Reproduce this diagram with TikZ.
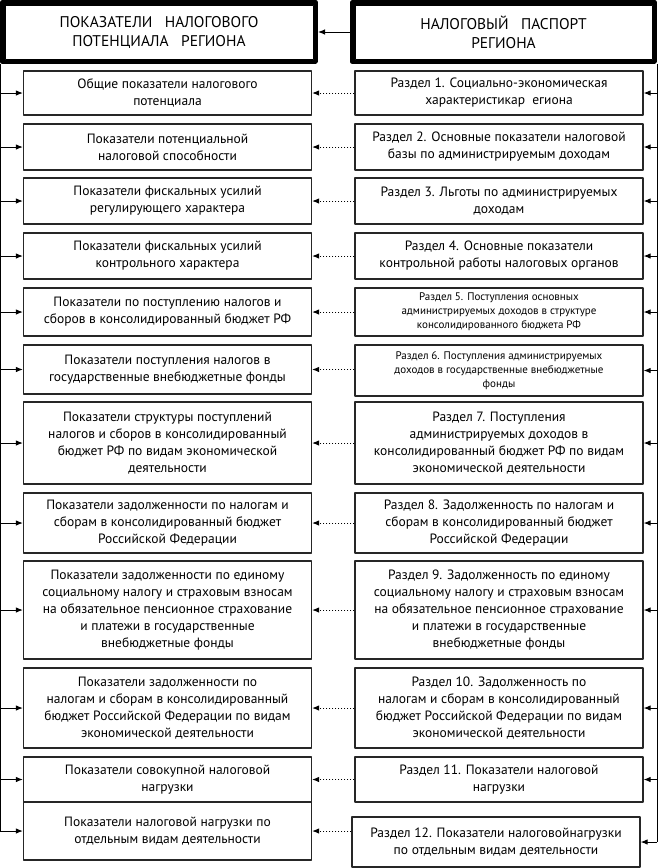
\documentclass[tikz,border=0pt]{standalone}
\usepackage{fontspec}
\setmainfont{PT Sans}
\usetikzlibrary{arrows.meta}

\begin{document}
\begin{tikzpicture}[
  x=1pt,
  y=-1pt,
  line join=round,
  headbox/.style={draw, line width=4.5pt, minimum width=#1, minimum height=59.5pt, align=center, inner sep=0pt, font=\fontsize{15.5}{19}\selectfont},
  leftbox/.style={draw=black!85, line width=1.2pt, minimum width=288pt, minimum height=#1, align=center, inner sep=0pt, font=\fontsize{13.5}{17}\selectfont},
  rightbox/.style={leftbox=#1},
  smalltext/.style={font=\fontsize{11}{14}\selectfont},
  arr/.style={line width=1pt, -{Latex[length=7pt,width=5.5pt]}},
  dotarr/.style={arr, dotted},
]
  \useasboundingbox (0,0) rectangle (657,868);

  % headers
  \node[headbox=313.5pt] (hp) at (159,32) {ПОКАЗАТЕЛИ\ \ \ НАЛОГОВОГО\\ПОТЕНЦИАЛА\ \ \ РЕГИОНА};
  \node[headbox=302.5pt] (hr) at (503.5,32) {НАЛОГОВЫЙ\ \ \ ПАСПОРТ\\РЕГИОНА};
  \draw[line width=0.8pt] ([shift={(5,-5)}]hp.south west) rectangle ([shift={(-5,5)}]hp.north east);
  \draw[line width=0.8pt] ([shift={(5,-5)}]hr.south west) rectangle ([shift={(-5,5)}]hr.north east);
  \draw[arr] (hr.west) -- (hp.east);

  % left column
  \node[leftbox=44pt] (p1) at (167.5,93) {Общие показатели налогового\\потенциала};
  \node[leftbox=46pt] (p2) at (167.5,147) {Показатели потенциальной\\налоговой способности};
  \node[leftbox=46pt] (p3) at (167.5,201) {Показатели фискальных усилий\\регулирующего характера};
  \node[leftbox=46pt] (p4) at (167.5,256) {Показатели фискальных усилий\\контрольного характера};
  \node[leftbox=48pt] (p5) at (167.5,312) {Показатели по поступлению налогов и\\сборов в консолидированный бюджет РФ};
  \node[leftbox=49pt] (p6) at (167.5,369.5) {Показатели поступления налогов в\\государственные внебюджетные фонды};
  \node[leftbox=82pt] (p7) at (167.5,443) {Показатели структуры поступлений\\налогов и сборов в консолидированный\\бюджет РФ по видам экономической\\деятельности};
  \node[leftbox=60pt] (p8) at (167.5,523) {Показатели задолженности по налогам и\\сборам в консолидированный бюджет\\Российской Федерации};
  \node[leftbox=98pt] (p9) at (167.5,610) {Показатели задолженности по единому\\социальному налогу и страховым взносам\\на обязательное пенсионное страхование\\и платежи в государственные\\внебюджетные фонды};
  \node[leftbox=80pt] (p10) at (167.5,708) {Показатели задолженности по\\налогам и сборам в консолидированный\\бюджет Российской Федерации по видам\\экономической деятельности};
  \node[leftbox=45pt] (p11) at (167.5,779.5) {Показатели совокупной налоговой\\нагрузки};
  \node[leftbox=58pt] (p12) at (167.5,831) {Показатели налоговой нагрузки по\\отдельным видам деятельности};

  % right column
  \node[rightbox=44pt] (r1) at (499,93) {Раздел 1. Социально-экономическая\\характеристикар\ \ егиона};
  \node[rightbox=46pt] (r2) at (499,147) {Раздел 2. Основные показатели налоговой\\базы по администрируемым доходам};
  \node[rightbox=46pt] (r3) at (499,201) {Раздел 3. Льготы по администрируемых\\доходам};
  \node[rightbox=46pt] (r4) at (499,256) {Раздел 4. Основные показатели\\контрольной работы налоговых органов};
  \node[rightbox=48pt, smalltext] (r5) at (499,312) {Раздел 5. Поступления основных\\администрируемых доходов в структуре\\консолидированного бюджета РФ};
  \node[rightbox=51pt, smalltext] (r6) at (499,370.5) {Раздел 6. Поступления администрируемых\\доходов в государственные внебюджетные\\фонды};
  \node[rightbox=82pt] (r7) at (499,443) {Раздел 7. Поступления\\администрируемых доходов в\\консолидированный бюджет РФ по видам\\экономической деятельности};
  \node[rightbox=60pt] (r8) at (499,523) {Раздел 8. Задолженность по налогам и\\сборам в консолидированный бюджет\\Российской Федерации};
  \node[rightbox=98pt] (r9) at (499,610) {Раздел 9. Задолженность по единому\\социальному налогу и страховым взносам\\на обязательное пенсионное страхование\\и платежи в государственные\\внебюджетные фонды};
  \node[rightbox=80pt] (r10) at (499,708) {Раздел 10. Задолженность по\\налогам и сборам в консолидированный\\бюджет Российской Федерации по видам\\экономической деятельности};
  \node[rightbox=45pt] (r11) at (499,779.5) {Раздел 11. Показатели налоговой\\нагрузки};
  \node[rightbox=50pt] (r12) at (496,842) {Раздел 12. Показатели налоговойнагрузки\\по отдельным видам деятельности};

  % trunk lines
  \draw[line width=1pt] (hp.south west) -- (hp.south west |- p12);
  \draw[line width=1pt] (hr.south east) -- (hr.south east |- r12);

  \draw[arr] (hp.south west |- p1) -- (p1.west);
  \draw[arr] (hp.south west |- p2) -- (p2.west);
  \draw[arr] (hp.south west |- p3) -- (p3.west);
  \draw[arr] (hp.south west |- p4) -- (p4.west);
  \draw[arr] (hp.south west |- p5) -- (p5.west);
  \draw[arr] (hp.south west |- p6) -- (p6.west);
  \draw[arr] (hp.south west |- p7) -- (p7.west);
  \draw[arr] (hp.south west |- p8) -- (p8.west);
  \draw[arr] (hp.south west |- p9) -- (p9.west);
  \draw[arr] (hp.south west |- p10) -- (p10.west);
  \draw[arr] (hp.south west |- p11) -- (p11.west);
  \draw[arr] (hp.south west |- p12) -- (p12.west);

  \draw[arr] (hr.south east |- r1) -- (r1.east);
  \draw[arr] (hr.south east |- r2) -- (r2.east);
  \draw[arr] (hr.south east |- r3) -- (r3.east);
  \draw[arr] (hr.south east |- r4) -- (r4.east);
  \draw[arr] (hr.south east |- r5) -- (r5.east);
  \draw[arr] (hr.south east |- r6) -- (r6.east);
  \draw[arr] (hr.south east |- r7) -- (r7.east);
  \draw[arr] (hr.south east |- r8) -- (r8.east);
  \draw[arr] (hr.south east |- r9) -- (r9.east);
  \draw[arr] (hr.south east |- r10) -- (r10.east);
  \draw[arr] (hr.south east |- r11) -- (r11.east);
  \draw[arr] (hr.south east |- r12) -- (r12.east);

  \draw[dotarr] (r1.west) -- (p1.east);
  \draw[dotarr] (r2.west) -- (p2.east);
  \draw[dotarr] (r3.west) -- (p3.east);
  \draw[dotarr] (r4.west) -- (p4.east);
  \draw[dotarr] (r5.west) -- (p5.east);
  \draw[dotarr] (r6.west |- p6.east) -- (p6.east);
  \draw[dotarr] (r7.west) -- (p7.east);
  \draw[dotarr] (r8.west) -- (p8.east);
  \draw[dotarr] (r9.west) -- (p9.east);
  \draw[dotarr] (r10.west) -- (p10.east);
  \draw[dotarr] (r11.west) -- (p11.east);
  \draw[dotarr] (r12.west |- p12.east) -- (p12.east);

\end{tikzpicture}
\end{document}
